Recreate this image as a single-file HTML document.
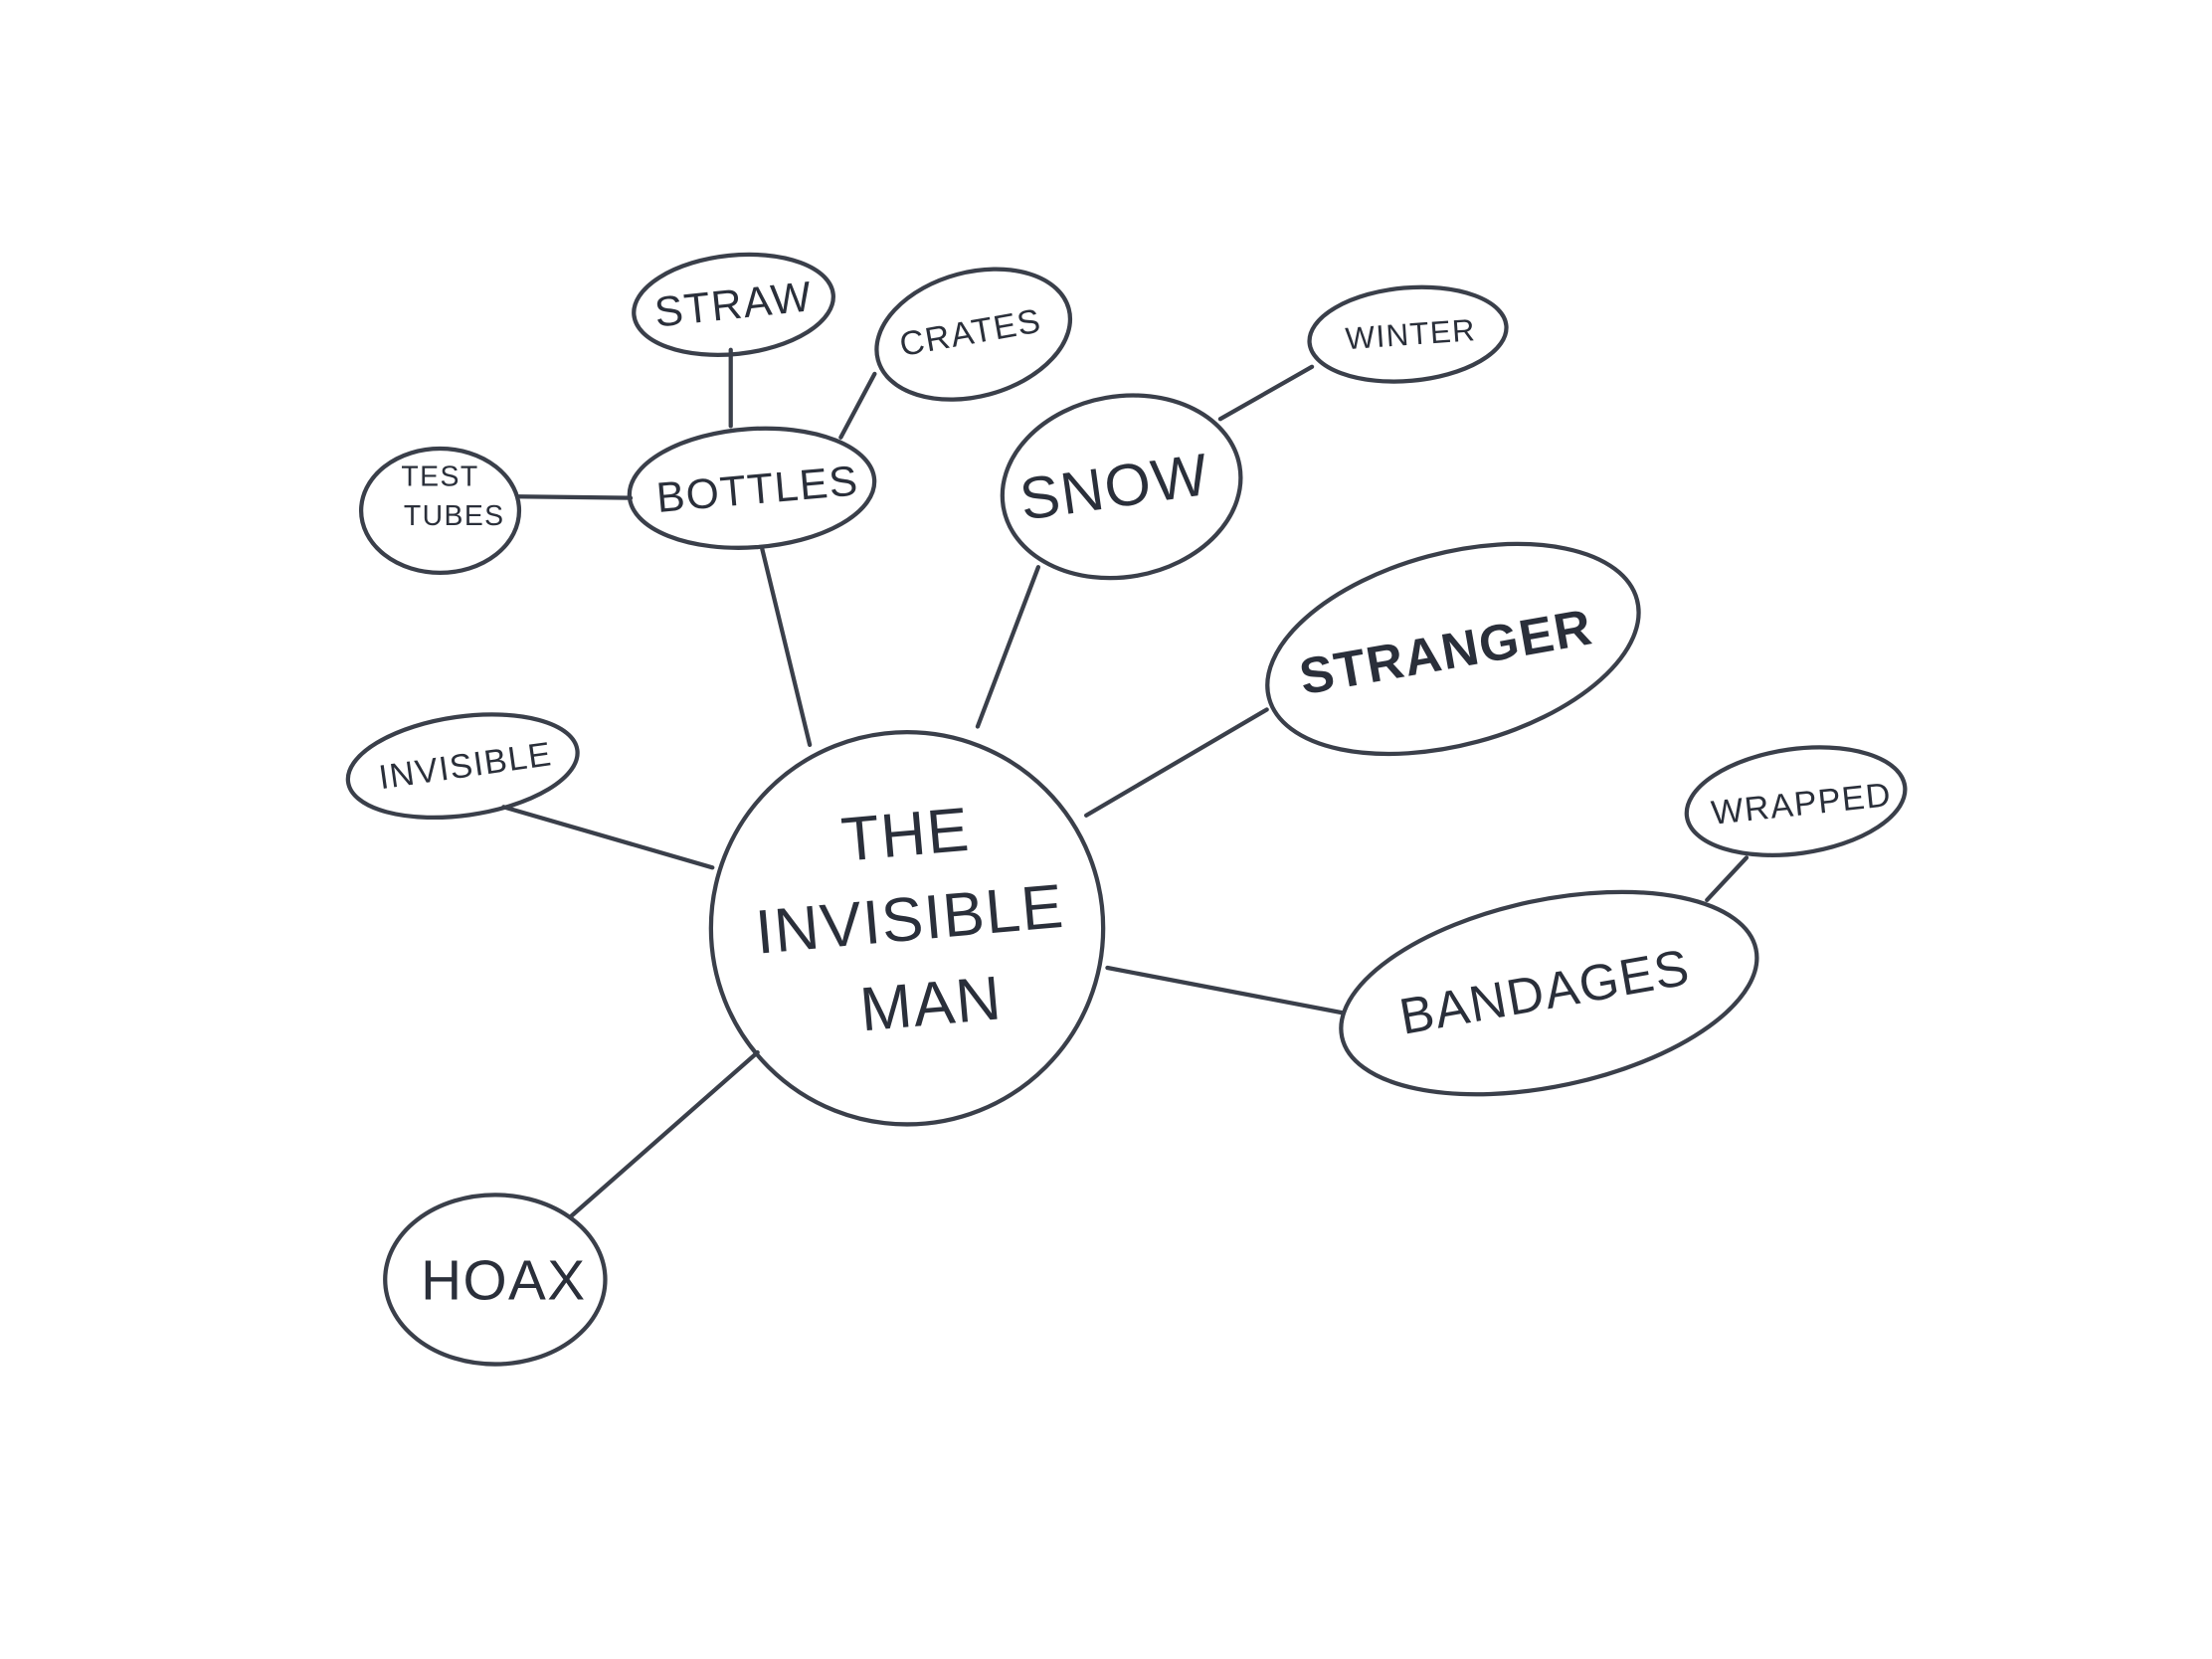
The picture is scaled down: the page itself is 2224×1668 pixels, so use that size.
<!DOCTYPE html>
<html><head><meta charset="utf-8"><style>
html,body{margin:0;padding:0;background:#fff;}
svg{display:block;}
text{font-family:"Liberation Sans",sans-serif;fill:#2a2f3a;text-anchor:middle;dominant-baseline:central;letter-spacing:1px;}
</style></head><body>
<svg width="2224" height="1668" viewBox="0 0 1568 1176" xmlns="http://www.w3.org/2000/svg">
<g stroke="#3a3f4a" stroke-width="3" fill="none" stroke-linecap="round">
<line x1="518" y1="248" x2="518" y2="302"/>
<line x1="620" y1="265" x2="596" y2="310"/>
<line x1="368" y1="352" x2="447" y2="353"/>
<line x1="540" y1="388" x2="574" y2="528"/>
<line x1="736" y1="402" x2="693" y2="515"/>
<line x1="865" y1="297" x2="930" y2="260"/>
<line x1="770" y1="578" x2="898" y2="503"/>
<line x1="357" y1="572" x2="505" y2="615"/>
<line x1="1210" y1="638" x2="1238" y2="608"/>
<line x1="785" y1="686" x2="952" y2="718"/>
<line x1="537" y1="746" x2="405" y2="862"/>
<circle cx="643" cy="658" r="139"/>
<ellipse cx="520" cy="216" rx="71" ry="35" transform="rotate(-6 520 216)"/>
<ellipse cx="690" cy="237" rx="70" ry="44" transform="rotate(-15 690 237)"/>
<ellipse cx="312" cy="362" rx="56" ry="44"/>
<ellipse cx="533" cy="346" rx="87" ry="42" transform="rotate(-4 533 346)"/>
<ellipse cx="795" cy="345" rx="85" ry="64" transform="rotate(-10 795 345)"/>
<ellipse cx="998" cy="237" rx="70" ry="33" transform="rotate(-5 998 237)"/>
<ellipse cx="1030" cy="460" rx="135" ry="68" transform="rotate(-15 1030 460)"/>
<ellipse cx="328" cy="543" rx="82" ry="35" transform="rotate(-8 328 543)"/>
<ellipse cx="1273" cy="568" rx="78" ry="37" transform="rotate(-8 1273 568)"/>
<ellipse cx="1098" cy="704" rx="150" ry="66" transform="rotate(-12 1098 704)"/>
<ellipse cx="351" cy="907" rx="78" ry="60"/>
</g>
<text x="520" y="216" font-size="30" transform="rotate(-6 520 216)">STRAW</text>
<text x="688" y="236" font-size="24" transform="rotate(-10 688 236)">CRATES</text>
<text x="312" y="338" font-size="20">TEST</text>
<text x="322" y="366" font-size="20">TUBES</text>
<text x="537" y="347" font-size="30" transform="rotate(-5 537 347)">BOTTLES</text>
<text x="790" y="345" font-size="42" transform="rotate(-8 790 345)">SNOW</text>
<text x="1000" y="237" font-size="22" transform="rotate(-4 1000 237)">WINTER</text>
<text x="1025" y="462" font-size="36" font-weight="bold" transform="rotate(-10 1025 462)">STRANGER</text>
<text x="330" y="543" font-size="24" transform="rotate(-8 330 543)">INVISIBLE</text>
<text x="1277" y="570" font-size="24" transform="rotate(-6 1277 570)">WRAPPED</text>
<text x="1095" y="703" font-size="36" transform="rotate(-10 1095 703)">BANDAGES</text>
<text x="357" y="908" font-size="40">HOAX</text>
<text x="642" y="592" font-size="44" transform="rotate(-5 642 592)">THE</text>
<text x="645" y="652" font-size="44" transform="rotate(-5 645 652)">INVISIBLE</text>
<text x="660" y="712" font-size="44" transform="rotate(-5 660 712)">MAN</text>
</svg>
</body></html>
